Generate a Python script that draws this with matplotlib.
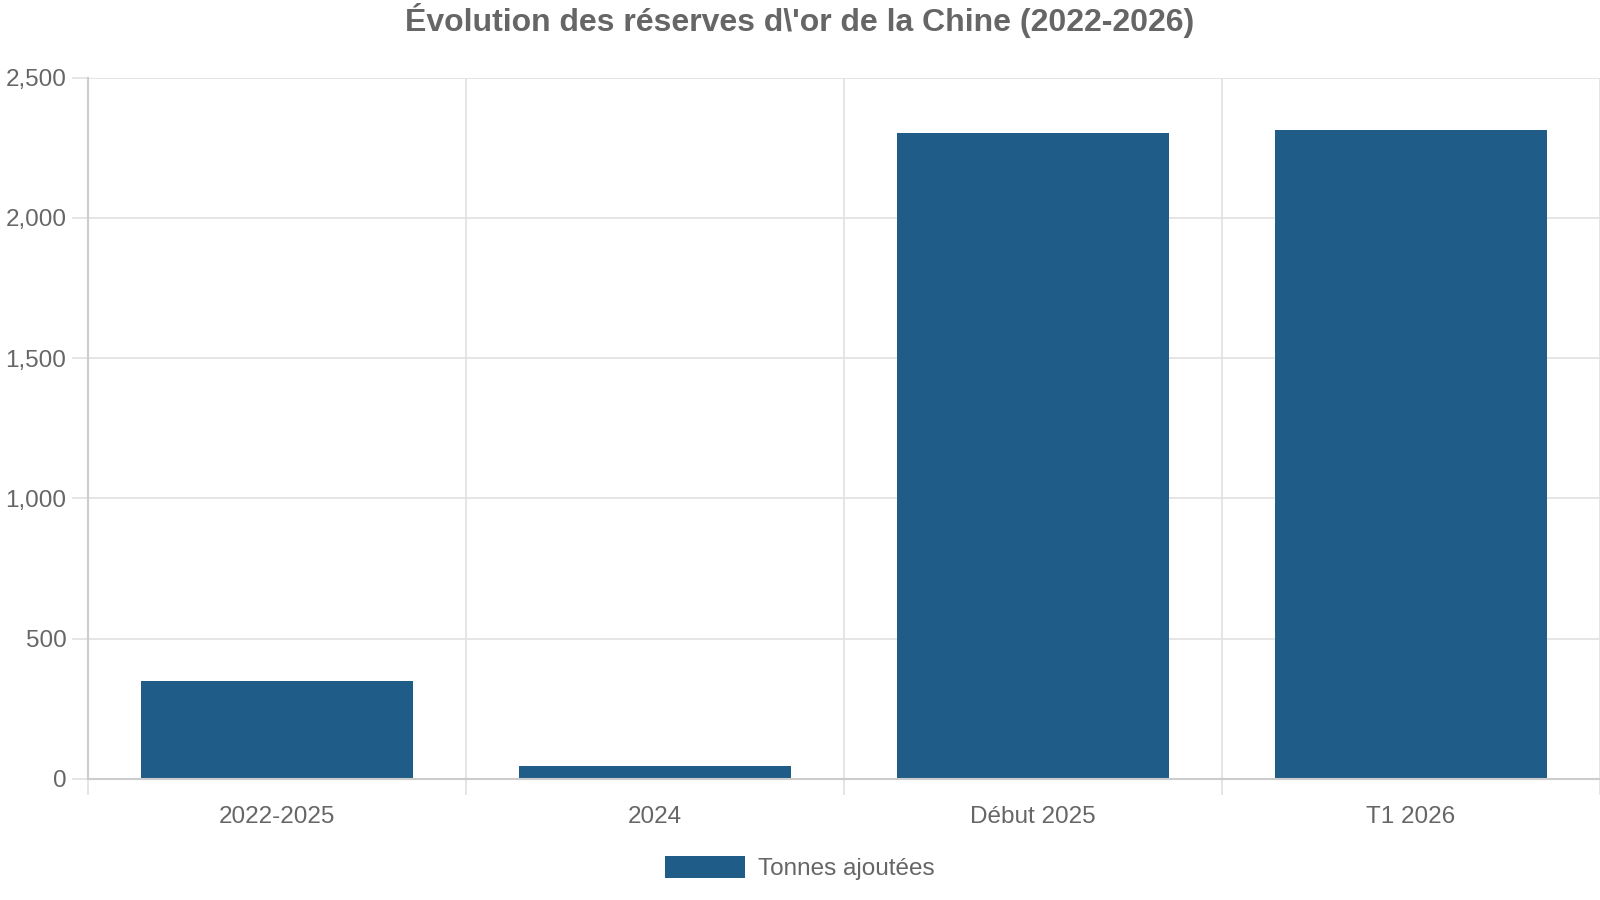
import matplotlib
matplotlib.use("Agg")
import matplotlib.pyplot as plt
from matplotlib.patches import Patch
import numpy as np

categories = ["2022-2025", "2024", "Début 2025", "T1 2026"]
values = [348, 44, 2304, 2313]
series_name = "Tonnes ajoutées"
title = "Évolution des réserves d\\'or de la Chine (2022-2026)"
yticks = [0, 500, 1000, 1500, 2000, 2500]

plt.rcParams['font.family'] = ['Liberation Sans', 'DejaVu Sans']
text_color = "#666666"
bar_color = "#1f5c87"

fig = plt.figure(figsize=(16, 9), dpi=100)
ax = fig.add_axes([88/1600, 1 - 778.7/900, 1 - 88/1600, (778.7 - 77.7)/900])

x = np.arange(len(categories))
ax.bar(x, values, width=0.72, color=bar_color, zorder=3)

ax.set_xlim(-0.5, len(categories) - 0.5)
ax.set_ylim(0, 2500)
ax.set_yticks(yticks)
ax.set_yticklabels([f"{v:,}" for v in yticks])
ax.set_xticks(x)
ax.set_xticklabels(categories)
ax.set_xticks(np.arange(len(categories) + 1) - 0.5, minor=True)

ax.grid(axis='y', which='major', color='#e3e3e3', linewidth=1.3, zorder=0)
ax.grid(axis='x', which='minor', color='#e3e3e3', linewidth=1.3, zorder=0)
ax.grid(axis='x', which='major', visible=False)

ax.tick_params(axis='y', which='major', length=11.5, width=1.3, color='#e3e3e3',
               labelsize=17.5, labelcolor=text_color, pad=4)
ax.tick_params(axis='x', which='major', length=0, labelsize=17.5,
               labelcolor=text_color, pad=20)
ax.tick_params(axis='x', which='minor', length=11.5, width=1.3, color='#e3e3e3')

for s in ['top', 'right']:
    ax.spines[s].set_visible(False)
for s in ['left', 'bottom']:
    ax.spines[s].set_color('#cccccc')
    ax.spines[s].set_linewidth(1.5)
ax.spines['bottom'].set_zorder(4)

fig.text(0.5, 1 - 20/900, title, ha='center', va='center', fontsize=23,
         fontweight='bold', color=text_color)

handle = Patch(facecolor=bar_color, edgecolor='none')
fig.legend([handle], [series_name], loc='center', bbox_to_anchor=(0.5, 1 - 868/900),
           frameon=False, fontsize=17.5, labelcolor=text_color,
           handlelength=3.3, handleheight=1.0, handletextpad=0.55)

fig.savefig("out.png", dpi=100)
